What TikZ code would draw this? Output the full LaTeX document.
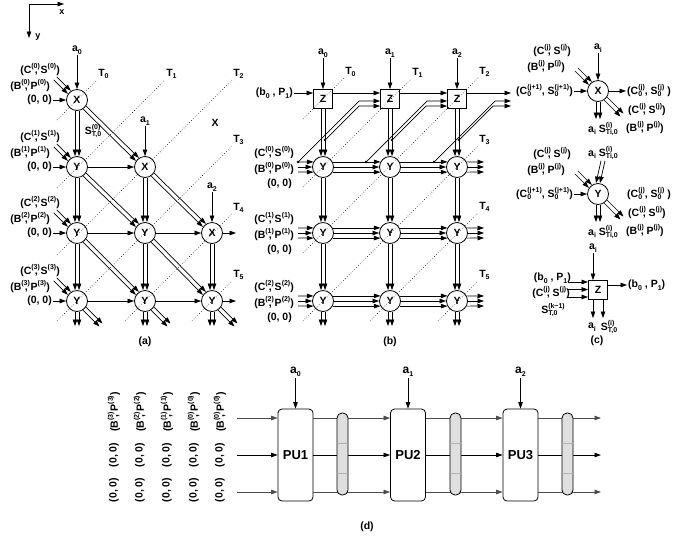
\documentclass[tikz,border=0pt]{standalone}
\usepackage{fontspec}
\setmainfont{Liberation Sans}
\usetikzlibrary{arrows.meta}
\newcommand{\lbl}{\fontsize{10.5}{12}\selectfont\bfseries}
\newcommand{\up}[1]{\rlap{\raisebox{0.9ex}{\fontsize{7}{8}\selectfont #1}}\kern3.5pt}
\newcommand{\upw}[1]{\raisebox{0.9ex}{\fontsize{7}{8}\selectfont #1}}
\newcommand{\dn}[1]{\raisebox{-0.45ex}{\fontsize{7}{8}\selectfont #1}}
\newcommand{\SpSb}[2]{{\fontsize{7}{8}\selectfont\setbox0=\hbox{\raisebox{1.35ex}{#1}}\setbox2=\hbox{\raisebox{-0.55ex}{#2}}\ifdim\wd0>\wd2 \rlap{\box2}\box0\else\rlap{\box0}\box2\fi}}
\newcommand{\vd}[2]{\draw[arr] ([xshift=-2pt]#1.south) -- ([xshift=-2pt]#2.north);\draw[arr] ([xshift=2pt]#1.south) -- ([xshift=2pt]#2.north);}
\newcommand{\dd}[2]{\draw[arr] ([shift={(-1.5pt,-1.5pt)}]#1.south east) -- ([shift={(-1.5pt,-1.5pt)}]#2.north west);\draw[arr] ([shift={(1.5pt,1.5pt)}]#1.south east) -- ([shift={(1.5pt,1.5pt)}]#2.north west);}
\newcommand{\nwin}[1]{\draw[arr] ([shift={(-12.5pt,15.5pt)}]#1.north west) -- ([shift={(1.5pt,1.5pt)}]#1.north west);\draw[arr] ([shift={(-15.5pt,12.5pt)}]#1.north west) -- ([shift={(-1.5pt,-1.5pt)}]#1.north west);}
\newcommand{\trip}[2]{\draw[arr] (#1.28) -- (#2.152);\draw[arr] (#1) -- (#2);\draw[arr] (#1.-28) -- (#2.-152);}
\tikzset{
 arr/.style={-{Triangle[length=6.5pt,width=4.5pt]}, line width=0.7pt},
 cnode/.style={circle, draw, line width=0.8pt, minimum size=21pt, inner sep=0pt, fill=white},
 zb/.style={rectangle, draw, line width=0.8pt, minimum size=19pt, inner sep=0pt, fill=white},
 tl/.style={dotted, line width=0.6pt},
 pu/.style={draw, rounded corners=4pt, minimum width=35pt, minimum height=92pt, line width=0.8pt, fill=white, font=\fontsize{13}{15}\selectfont\bfseries},
 regbar/.style={draw, rounded corners=5pt, minimum width=11pt, minimum height=82pt, fill=gray!25, line width=0.8pt},
 glin/.style={arr, draw=gray!60!black},
}
\begin{document}
\begin{tikzpicture}[x=1pt,y=-1pt, every node/.style={font=\lbl, inner sep=1pt}]
\useasboundingbox (0,0) rectangle (691,542);
\fill[white] (0,0) rectangle (691,542);
% axes
\coordinate (o) at (29,4);
\coordinate (ox) at (64,4);
\coordinate (oy) at (29,38);
\draw[arr] (o) -- (ox);
\draw[arr] (o) -- (oy);
\node[font=\fontsize{9}{10}\selectfont\bfseries] (axx) at (62,12) {x};
\node[font=\fontsize{9}{10}\selectfont\bfseries] (axy) at (38,37) {y};

% ---------------- (a)
\node[cnode] (a00) at (77,100) {X};
\node[cnode] (a10) at (77,167) {Y};
\node[cnode] (a11) at (145,167) {X};
\node[cnode] (a20) at (77,233) {Y};
\node[cnode] (a21) at (145,233) {Y};
\node[cnode] (a22) at (212,233) {X};
\node[cnode] (a30) at (77,301) {Y};
\node[cnode] (a31) at (145,301) {Y};
\node[cnode] (a32) at (212,301) {Y};
\foreach \k/\y in {0/100,1/167,2/233,3/301}{
 \node[anchor=east] (ac\k) at (61,\y-30) {(C\up{(\k)}, S\upw{(\k)})};
 \node[anchor=east] (ab\k) at (51,\y-14) {(B\up{(\k)}, P\upw{(\k)})};
 \node[anchor=east] (az\k) at (53,\y) {(0, 0)};
}
\draw[arr] (az0) -- (a00);
\draw[arr] (az1) -- (a10);
\draw[arr] (az2) -- (a20);
\draw[arr] (az3) -- (a30);
\nwin{a00}\nwin{a10}\nwin{a20}\nwin{a30}
\vd{a00}{a10}\vd{a10}{a20}\vd{a20}{a30}\vd{a11}{a21}\vd{a21}{a31}\vd{a22}{a32}
\coordinate (a30v) at (77,326);
\coordinate (a31v) at (145,326);
\coordinate (a32v) at (212,326);
\vd{a30}{a30v}\vd{a31}{a31v}\vd{a32}{a32v}
\dd{a00}{a11}\dd{a10}{a21}\dd{a11}{a22}\dd{a20}{a31}\dd{a21}{a32}
\coordinate (a30d) at (101,325);
\coordinate (a31d) at (169,325);
\coordinate (a32d) at (236,325);
\dd{a30}{a30d}\dd{a31}{a31d}\dd{a32}{a32d}
\draw[arr] (a10) -- (a11);
\draw[arr] (a20) -- (a21);
\draw[arr] (a21) -- (a22);
\draw[arr] (a30) -- (a31);
\draw[arr] (a31) -- (a32);
\coordinate (a22o) at (236,233);
\coordinate (a32o) at (236,301);
\draw[arr] (a22) -- (a22o);
\draw[arr] (a32) -- (a32o);
\node (ta0) at (77,50) {a\dn{0}};
\node (ta1) at (145,121) {a\dn{1}};
\node (ta2) at (212,187) {a\dn{2}};
\draw[arr] (ta0) -- (a00);
\draw[arr] (ta1) -- (a11);
\draw[arr] (ta2) -- (a22);
\draw[tl] (57,120) -- (97,80) node[anchor=south west] {T\dn{0}};
\draw[tl] (57,188) -- (165,80) node[anchor=south west] {T\dn{1}};
\draw[tl] (57,255) -- (232,80) node[anchor=south west] {T\dn{2}};
\draw[tl] (57,321) -- (232,146) node[anchor=south west] {T\dn{3}};
\draw[tl] (125,321) -- (232,214) node[anchor=south west] {T\dn{4}};
\draw[tl] (192,321) -- (232,281) node[anchor=south west] {T\dn{5}};
\node (xl) at (215,123) {X};
\node (sl) at (93,131) {S\SpSb{(0)}{T,0}};
\node (capa) at (145,342) {(a)};

% ---------------- (b)
\node[zb] (z0) at (323,99) {Z};
\node[zb] (z1) at (390,99) {Z};
\node[zb] (z2) at (457,99) {Z};
\node[cnode] (b10) at (323,167) {Y};
\node[cnode] (b11) at (390,167) {Y};
\node[cnode] (b12) at (457,167) {Y};
\node[cnode] (b20) at (323,233) {Y};
\node[cnode] (b21) at (390,233) {Y};
\node[cnode] (b22) at (457,233) {Y};
\node[cnode] (b30) at (323,301) {Y};
\node[cnode] (b31) at (390,301) {Y};
\node[cnode] (b32) at (457,301) {Y};
\node (tb0) at (323,53) {a\dn{0}};
\node (tb1) at (390,53) {a\dn{1}};
\node (tb2) at (457,53) {a\dn{2}};
\draw[arr] (tb0) -- (z0);
\draw[arr] (tb1) -- (z1);
\draw[arr] (tb2) -- (z2);
\node[anchor=east] (bp) at (294,93) {(b\dn{0} , P\dn{1})};
\draw[arr] (bp.east) -- ([yshift=6pt]z0.west);
\draw[arr] ([yshift=6pt]z0.east) -- ([yshift=6pt]z1.west);
\draw[arr] ([yshift=6pt]z1.east) -- ([yshift=6pt]z2.west);
\coordinate (zo1) at (511,93);
\coordinate (zo2) at (511,101);
\coordinate (zo3) at (511,106);
\draw[arr] ([yshift=6pt]z2.east) -- (zo1);
% vertical doubles
\vd{z0}{b10}\vd{z1}{b11}\vd{z2}{b12}
\vd{b10}{b20}\vd{b11}{b21}\vd{b12}{b22}
\vd{b20}{b30}\vd{b21}{b31}\vd{b22}{b32}
\coordinate (b30v) at (323,326);
\coordinate (b31v) at (390,326);
\coordinate (b32v) at (457,326);
\vd{b30}{b30v}\vd{b31}{b31v}\vd{b32}{b32v}
% horizontal triples
\trip{b10}{b11}\trip{b11}{b12}
\trip{b20}{b21}\trip{b21}{b22}
\trip{b30}{b31}\trip{b31}{b32}
\foreach \r/\y in {1/167,2/233,3/301}{
 \coordinate (bi\r) at (298,\y);
 \coordinate (bo\r) at (484,\y);
}
\draw[arr] ([yshift=5pt]bi1) -- (b10.152);
\draw[arr] (bi1) -- (b10);
\draw[arr] ([yshift=-5pt]bi1) -- (b10.-152);
\draw[arr] ([yshift=5pt]bi2) -- (b20.152);
\draw[arr] (bi2) -- (b20);
\draw[arr] ([yshift=-5pt]bi2) -- (b20.-152);
\draw[arr] ([yshift=5pt]bi3) -- (b30.152);
\draw[arr] (bi3) -- (b30);
\draw[arr] ([yshift=-5pt]bi3) -- (b30.-152);
\draw[arr] (b12.28) -- ([yshift=5pt]bo1);
\draw[arr] (b12) -- (bo1);
\draw[arr] (b12.-28) -- ([yshift=-5pt]bo1);
\draw[arr] (b22.28) -- ([yshift=5pt]bo2);
\draw[arr] (b22) -- (bo2);
\draw[arr] (b22.-28) -- ([yshift=-5pt]bo2);
\draw[arr] (b32.28) -- ([yshift=5pt]bo3);
\draw[arr] (b32) -- (bo3);
\draw[arr] (b32.-28) -- ([yshift=-5pt]bo3);
% jog lines
\coordinate (d0) at (298,162);
\coordinate (d1) at (366,162);
\coordinate (d2) at (434,162);
\coordinate (e0) at (325,140);
\coordinate (e1) at (392,140);
\coordinate (e2) at (459,140);
\foreach \c in {d0,d1,d2,e0,e1,e2}{\fill (\c) circle (1.4pt);}
\draw[arr] (d0) -- ++(61,-61) -- ([yshift=-2pt]z1.west);
\draw[arr] (e0) -- ++(34,-34) -- ([yshift=-7pt]z1.west);
\draw[arr] (d1) -- ++(61,-61) -- ([yshift=-2pt]z2.west);
\draw[arr] (e1) -- ++(34,-34) -- ([yshift=-7pt]z2.west);
\draw[arr] (d2) -- ++(61,-61) -- (zo2);
\draw[arr] (e2) -- ++(34,-34) -- (zo3);
\foreach \k/\y in {0/167,1/233,2/301}{
 \node[anchor=east] (bc\k) at (295,\y-14) {(C\up{(\k)}, S\upw{(\k)})};
 \node[anchor=east] (bb\k) at (295,\y+2) {(B\up{(\k)}, P\upw{(\k)})};
 \node[anchor=east] (bz\k) at (293,\y+17) {(0, 0)};
}
\draw[tl] (303,119) -- (344,78) node[anchor=south west] {T\dn{0}};
\draw[tl] (303,187) -- (411,79) node[anchor=south west] {T\dn{1}};
\draw[tl] (303,253) -- (478,78) node[anchor=south west] {T\dn{2}};
\draw[tl] (303,321) -- (478,146) node[anchor=south west] {T\dn{3}};
\draw[tl] (370,321) -- (478,213) node[anchor=south west] {T\dn{4}};
\draw[tl] (438,321) -- (478,281) node[anchor=south west] {T\dn{5}};
\node (capb) at (390,342) {(b)};

% ---------------- (c)
\node[cnode] (cx) at (598,91) {X};
\node (cxt) at (598,48) {a\dn{i}};
\draw[arr] (cxt) -- (cx);
\node[anchor=east] (cxc) at (572,51) {(C\up{(j)}, S\upw{(j)})};
\node[anchor=east] (cxb) at (566,67) {(B\up{(j)}, P\upw{(j)})};
\nwin{cx}
\node[anchor=east] (cxl) at (574,91) {(C\SpSb{(j+1)}{0}, S\SpSb{(j+1)}{0})};
\draw[arr] (cxl) -- (cx);
\node[anchor=west] (cxr) at (626,91) {(C\SpSb{(j)}{0}, S\SpSb{(j)}{0} )};
\draw[arr] (cx) -- (cxr);
\coordinate (cxv) at (598,119);
\vd{cx}{cxv}
\node (cxvl) at (603,129) {a\dn{i} S\SpSb{(i)}{Ti,0}};
\coordinate (cxd) at (622,115);
\dd{cx}{cxd}
\node[anchor=west] (cxdc) at (627,110) {(C\up{(j)}, S\upw{(j)})};
\node[anchor=west] (cxdb) at (625,128) {(B\up{(j)}, P\upw{(j)})};

\node[cnode] (cy) at (598,194) {Y};
\node (cyt) at (603,153) {a\dn{i} S\SpSb{(i)}{Ti,0}};
\vd{cyt}{cy}
\node[anchor=east] (cyc) at (572,154) {(C\up{(j)}, S\upw{(j)})};
\node[anchor=east] (cyb) at (566,170) {(B\up{(j)}, P\upw{(j)})};
\nwin{cy}
\node[anchor=east] (cyl) at (574,194) {(C\SpSb{(j+1)}{0}, S\SpSb{(j+1)}{0})};
\draw[arr] (cyl) -- (cy);
\node[anchor=west] (cyr) at (626,194) {(C\SpSb{(j)}{0}, S\SpSb{(j)}{0} )};
\coordinate (cyv) at (598,222);
\vd{cy}{cyv}
\node (cyvl) at (603,232) {a\dn{i} S\SpSb{(i)}{Ti,0}};
\coordinate (cyd) at (622,218);
\dd{cy}{cyd}
\node[anchor=west] (cydc) at (627,213) {(C\up{(j)}, S\upw{(j)})};
\node[anchor=west] (cydb) at (625,231) {(B\up{(j)}, P\upw{(j)})};

\node[zb] (cz) at (598,290) {Z};
\node (czt) at (593,248) {a\dn{i}};
\draw[arr] (czt) -- (czt |- cz.north);
\node[anchor=east] (czl1) at (572,278) {(b\dn{0} , P\dn{1})};
\node[anchor=east] (czl2) at (571,293) {(C\up{(j)}, S\upw{(j)})};
\node[anchor=east] (czl3) at (566,310) {S\SpSb{(k\textminus1)}{T,0}};
\coordinate (czi1) at (568,282);
\coordinate (czi2) at (568,289.5);
\coordinate (czi3) at (568,297);
\draw[arr] (czi1) -- (czi1 -| cz.west);
\draw[arr] (czi2) -- (czi2 -| cz.west);
\draw[arr] (czi3) -- (czi3 -| cz.west);
\node[anchor=west] (czr) at (627,285) {(b\dn{0} , P\dn{1})};
\draw[arr] ([yshift=5pt]cz.east) -- (czr.west);
\coordinate (czb1) at (593,318);
\coordinate (czb2) at (603,318);
\draw[arr] (czb1 |- cz.south) -- (czb1);
\draw[arr] (czb2 |- cz.south) -- (czb2);
\node (czbl1) at (592,327) {a\dn{i}};
\node (czbl2) at (609,327) {S\SpSb{(i)}{T,0}};
\node (capc) at (597,341) {(c)};

% ---------------- (d)
\node[pu] (pu1) at (295.5,455) {PU1};
\node[pu] (pu2) at (408,455) {PU2};
\node[pu] (pu3) at (520.5,455) {PU3};
\node[font=\fontsize{12}{14}\selectfont\bfseries] (da0) at (295.5,372) {a\dn{0}};
\node[font=\fontsize{12}{14}\selectfont\bfseries] (da1) at (408,372) {a\dn{1}};
\node[font=\fontsize{12}{14}\selectfont\bfseries] (da2) at (520.5,372) {a\dn{2}};
\draw[arr] (da0) -- (pu1);
\draw[arr] (da1) -- (pu2);
\draw[arr] (da2) -- (pu3);
\coordinate (in1) at (237,418);
\coordinate (in2) at (237,455);
\coordinate (in3) at (237,492);
\coordinate (out1) at (601,418);
\coordinate (out2) at (601,455);
\coordinate (out3) at (601,492);
\draw[glin] (in1) -- (in1 -| pu1.west);
\draw[arr] (in2) -- (in2 -| pu1.west);
\draw[glin] (in3) -- (in3 -| pu1.west);
\draw[glin] (pu1.east |- in1) -- (pu2.west |- in1);
\draw[arr] (pu1.east |- in2) -- (pu2.west |- in2);
\draw[glin] (pu1.east |- in3) -- (pu2.west |- in3);
\draw[glin] (pu2.east |- in1) -- (pu3.west |- in1);
\draw[arr] (pu2.east |- in2) -- (pu3.west |- in2);
\draw[glin] (pu2.east |- in3) -- (pu3.west |- in3);
\draw[glin] (pu3.east |- out1) -- (out1);
\draw[arr] (pu3.east |- out2) -- (out2);
\draw[glin] (pu3.east |- out3) -- (out3);
\node[regbar] (r1) at (342.5,454) {};
\node[regbar] (r2) at (455.5,454) {};
\node[regbar] (r3) at (567.5,454) {};
\foreach \r in {r1,r2,r3}{
 \draw[gray!60, line width=0.4pt] (\r.west |- 0,443) -- (\r.east |- 0,443);
 \draw[gray!60, line width=0.4pt] (\r.west |- 0,473) -- (\r.east |- 0,473);
}
\foreach \x/\k in {114/3,140/2,167/1,194/0,220/0}{
 \node[rotate=90] at (\x,412) {(B\up{(\k)}, P\upw{(\k)})};
 \node[rotate=90] at (\x,455) {(0, 0)};
 \node[rotate=90] at (\x,490) {(0, 0)};
}
\node (capd) at (367,527) {(d)};
\end{tikzpicture}
\end{document}
